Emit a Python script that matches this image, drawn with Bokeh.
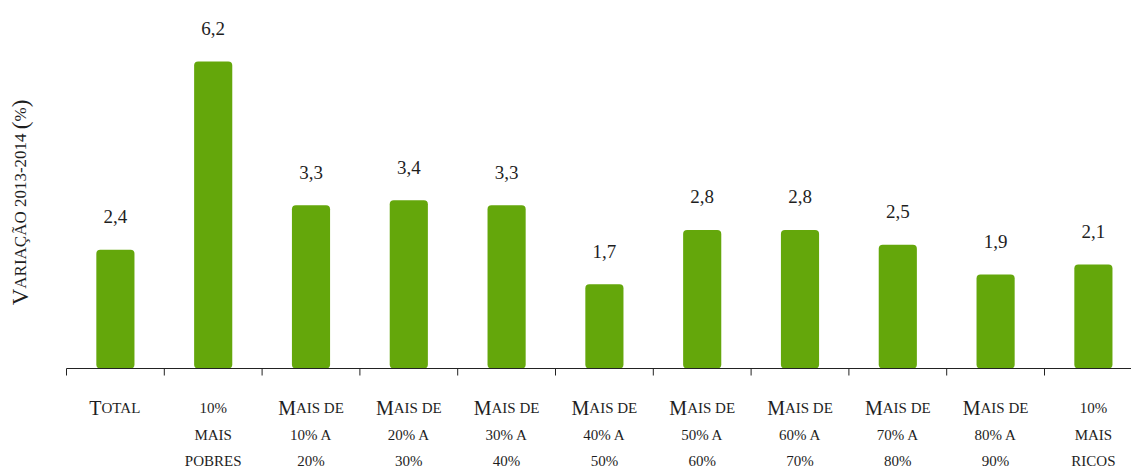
import math
from bokeh.plotting import figure
from bokeh.models import ColumnDataSource, Range1d
from bokeh.core.properties import value
from bokeh.embed import file_html
from bokeh.resources import INLINE

# ---------------- data ----------------
category_lines = [
    ["Total"],
    ["10%", "mais", "pobres"],
    ["Mais de", "10% a", "20%"],
    ["Mais de", "20% a", "30%"],
    ["Mais de", "30% a", "40%"],
    ["Mais de", "40% a", "50%"],
    ["Mais de", "50% a", "60%"],
    ["Mais de", "60% a", "70%"],
    ["Mais de", "70% a", "80%"],
    ["Mais de", "80% a", "90%"],
    ["10%", "mais", "ricos"],
]
values = [2.4, 6.2, 3.3, 3.4, 3.3, 1.7, 2.8, 2.8, 2.5, 1.9, 2.1]
y_title = "Variação 2013-2014 (%)"

FONT = "Liberation Serif"
TEXT_COLOR = "#1e1e1e"
BAR_COLOR = "#64a70b"
AXIS_COLOR = "#222222"

WIDTH, HEIGHT = 1131, 467
LEFT, BOTTOM = 66, 99          # room for the y title / category labels
PX_X = 97.8                    # pixels per category
PX_Y = 49.5                    # pixels per percentage point
X0 = -0.5 - LEFT / PX_X
X1 = -0.5 + (WIDTH - LEFT) / PX_X
Y0 = -BOTTOM / PX_Y
Y1 = Y0 + HEIGHT / PX_Y

# Times / Liberation Serif advance widths (per 1000 em)
W = dict(A=722, B=667, C=667, D=722, E=611, F=556, G=722, H=722, I=333, J=389,
         K=722, L=611, M=889, N=722, O=722, P=556, Q=722, R=667, S=556, T=611,
         U=722, V=722, W=944, X=722, Y=722, Z=611)
W.update({"Ç": 667, "Ã": 722, "%": 833, " ": 250, "(": 333, ")": 333,
          "-": 333, ",": 250})


def small_caps_runs(line, big, small):
    """Split a line into runs (text, size_px, x_start) emulating small caps."""
    runs = []
    cur_cls, cur_txt, cur_x = None, "", 0.0
    x = 0.0
    for ch in line:
        if ch == " ":
            cls = cur_cls or "s"
        elif ch.isupper() or ch in "()":
            cls = "b"
        else:
            cls = "s"
        size = big if cls == "b" else small
        if cls != cur_cls:
            if cur_txt:
                runs.append((cur_txt, big if cur_cls == "b" else small, cur_x))
            cur_cls, cur_txt, cur_x = cls, "", x
        cur_txt += ch.upper()
        x += W.get(ch.upper(), 500) / 1000.0 * size
    if cur_txt:
        runs.append((cur_txt, big if cur_cls == "b" else small, cur_x))
    return runs, x


n = len(values)
xs = list(range(n))

p = figure(width=WIDTH, height=HEIGHT, output_backend="svg", toolbar_location=None,
           x_range=Range1d(X0, X1), y_range=Range1d(Y0, Y1),
           x_axis_location=None, y_axis_location=None,
           min_border=0)
p.outline_line_color = None
p.xgrid.visible = False
p.ygrid.visible = False
p.background_fill_color = "white"
p.border_fill_color = "white"

# bars
src = ColumnDataSource(dict(x=xs, v=values,
                            ly=[v + 33 / PX_Y for v in values],
                            lbl=[f"{v:.1f}".replace(".", ",") for v in values]))
p.vbar(x="x", top="v", bottom=0, width=0.39, source=src, fill_color=BAR_COLOR,
       line_color=None, border_radius=4)

# value labels
p.text(x="x", y="ly", text="lbl", source=src, text_align="center",
       text_baseline="alphabetic", text_font=value(FONT),
       text_font_size="19px", text_color=TEXT_COLOR)

# category axis: baseline and ticks at category boundaries
bounds = [i - 0.5 for i in range(n)]
p.segment(x0=[-0.5], y0=[0], x1=[X1], y1=[0], line_color=AXIS_COLOR, line_width=1)
p.segment(x0=bounds, y0=[0] * n, x1=bounds, y1=[-7 / PX_Y] * n,
          line_color=AXIS_COLOR, line_width=1)


def add_runs(rows, angle=0.0):
    """rows: list of (x, y, text, size_int) in data units."""
    sizes = sorted(set(r[3] for r in rows))
    for s in sizes:
        sel = [r for r in rows if r[3] == s]
        sub = ColumnDataSource(dict(x=[r[0] for r in sel], y=[r[1] for r in sel],
                                    t=[r[2] for r in sel]))
        p.text(x="x", y="y", text="t", source=sub, text_font_size=f"{s}px",
               text_align="left", text_baseline="alphabetic",
               text_font=value(FONT), text_color=TEXT_COLOR, angle=angle)


# category labels (emulated small caps)
rows = []
for i, lines in enumerate(category_lines):
    for li, line in enumerate(lines):
        runs, total = small_caps_runs(line, 20, 15)
        for txt, size, x0 in runs:
            rows.append((i + (x0 - total / 2) / PX_X,
                         -(39.5 + 26.5 * li) / PX_Y, txt, size))
add_runs(rows)

# y-axis title (rotated, emulated small caps), left of the bars
runs, total = small_caps_runs(y_title, 23, 17)
rows = []
title_cy = (HEIGHT - BOTTOM - 202) / PX_Y
for txt, size, x0 in runs:
    rows.append((-0.5 - 46 / PX_X, title_cy + (x0 - total / 2) / PX_Y, txt, size))
add_runs(rows, angle=math.pi / 2)

open("out.html", "w").write(file_html(p, INLINE))
